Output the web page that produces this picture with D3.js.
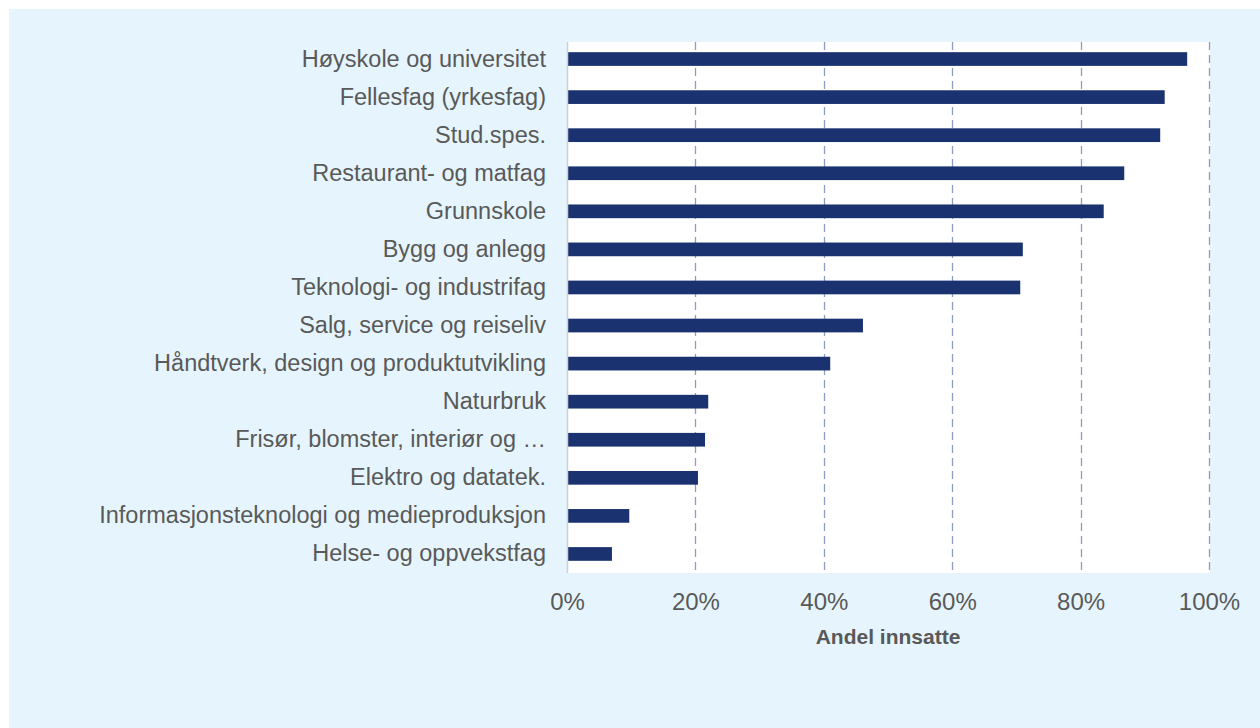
<!DOCTYPE html>
<html>
<head>
<meta charset="utf-8">
<script src="https://cdn.jsdelivr.net/npm/d3@7"></script>
<style>
  body { margin: 0; background: #fff; }
  svg { display: block; font-family: "Liberation Sans", Arial, sans-serif; }
</style>
</head>
<body>
<div id="chart_div"></div>
<script>
// categories, top to bottom
var categories = [
  "Høyskole og universitet",
  "Fellesfag (yrkesfag)",
  "Stud.spes.",
  "Restaurant- og matfag",
  "Grunnskole",
  "Bygg og anlegg",
  "Teknologi- og industrifag",
  "Salg, service og reiseliv",
  "Håndtverk, design og produktutvikling",
  "Naturbruk",
  "Frisør, blomster, interiør og …",
  "Elektro og datatek.",
  "Informasjonsteknologi og medieproduksjon",
  "Helse- og oppvekstfag"
];
// andel innsatte (0-1)
var values = [0.966, 0.931, 0.924, 0.868, 0.836, 0.710, 0.706, 0.461, 0.410, 0.220, 0.215, 0.204, 0.097, 0.070];
var tickValues = [0, 0.2, 0.4, 0.6, 0.8, 1];
var axisTitle = "Andel innsatte";

var all_width = 1260, all_height = 728;

var svg = d3.select("#chart_div")
  .append("svg")
    .attr("width", all_width)
    .attr("height", all_height);

// light blue panel
svg.append("rect")
  .attr("x", 9).attr("y", 9)
  .attr("width", all_width - 9).attr("height", all_height - 9)
  .style("fill", "#e6f5fd");

var plot = {left: 567, right: 1209, top: 40, bottom: 573};

// white plot area
svg.append("rect")
  .attr("x", plot.left).attr("y", plot.top + 2)
  .attr("width", plot.right - plot.left + 1)
  .attr("height", plot.bottom - plot.top - 2)
  .style("fill", "#ffffff");

var x = d3.scaleLinear()
  .domain([0, 1])
  .range([plot.left, plot.right]);

var y = d3.scaleBand()
  .domain(categories)
  .range([plot.top, plot.bottom])
  .paddingInner(0.64)
  .paddingOuter(0.32);

// dashed gridlines
svg.selectAll("gridLines")
  .data(tickValues.filter(function(d) { return d > 0; }))
  .enter()
  .append("line")
    .attr("x1", function(d) { return Math.round(x(d)) + 0.5; })
    .attr("x2", function(d) { return Math.round(x(d)) + 0.5; })
    .attr("y1", plot.top + 2)
    .attr("y2", plot.bottom)
    .attr("stroke", "#8d9dc2")
    .attr("stroke-width", 1.3)
    .attr("stroke-dasharray", "8,5");

// bars
svg.selectAll("bars")
  .data(values)
  .enter()
  .append("rect")
    .attr("x", x(0))
    .attr("y", function(d, i) { return y(categories[i]); })
    .attr("width", function(d) { return x(d) - x(0); })
    .attr("height", y.bandwidth())
    .style("fill", "#1a3370");

// vertical axis line
svg.append("line")
  .attr("x1", plot.left + 0.5).attr("x2", plot.left + 0.5)
  .attr("y1", plot.top + 2).attr("y2", plot.bottom)
  .attr("stroke", "#d0d0d0")
  .attr("stroke-width", 1.5);

// category labels
var yAxis = svg.append("g")
  .attr("transform", "translate(" + plot.left + ",0)")
  .call(d3.axisLeft(y).tickSize(0).tickPadding(21));
yAxis.select(".domain").remove();
yAxis.selectAll("text")
  .style("font-size", "23.5px")
  .style("fill", "#595959")
  .style("font-family", "'Liberation Sans', Arial, sans-serif");

// x tick labels
var xAxis = svg.append("g")
  .attr("transform", "translate(0," + (plot.bottom + 17) + ")")
  .call(d3.axisBottom(x).tickValues(tickValues).tickFormat(d3.format(".0%")).tickSize(0));
xAxis.select(".domain").remove();
xAxis.selectAll("text")
  .style("font-size", "24px")
  .style("fill", "#595959")
  .style("font-family", "'Liberation Sans', Arial, sans-serif");

svg.append("text")
  .attr("x", 888)
  .attr("y", 644)
  .attr("text-anchor", "middle")
  .style("font-size", "21px")
  .style("font-weight", "bold")
  .style("fill", "#595959")
  .text(axisTitle);
</script>
</body>
</html>
